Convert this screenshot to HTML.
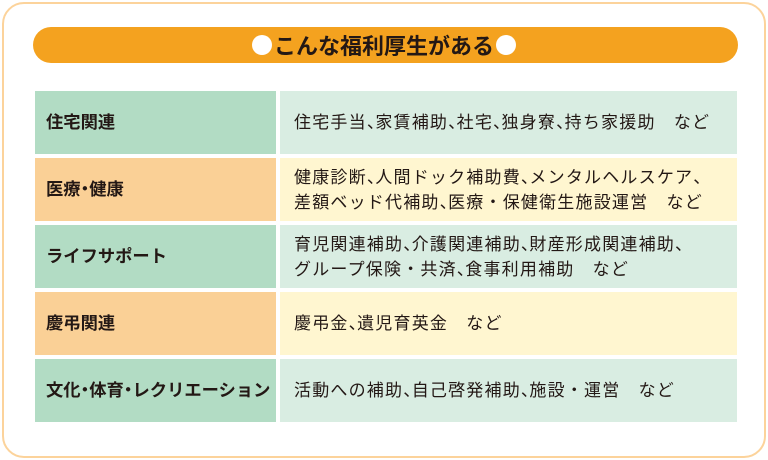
<!DOCTYPE html>
<html><head><meta charset="utf-8"><style>
body{margin:0;width:768px;height:460px;background:#fff;font-family:"Liberation Sans","Noto Sans CJK JP",sans-serif;position:relative;overflow:hidden}
.outer{position:absolute;left:2px;top:2px;width:760px;height:452px;border:2px solid #fcd39b;border-radius:22px}
.hdr{position:absolute;left:33px;top:27px;width:705px;height:36px;background:#f4a21f;border-radius:18px}
.ttl{position:absolute;left:0;right:0;top:27px;height:36px;display:flex;align-items:center;justify-content:center;font-weight:bold;font-size:22px;color:#231815}
.dot{display:inline-block;width:20px;height:20px;border-radius:50%;background:#fff;margin:0 2px}
.c{position:absolute;display:flex;align-items:center;color:#231815;line-height:25px;box-sizing:border-box;white-space:nowrap}
.l{left:35px;width:241px;padding-left:11px;font-weight:bold;font-size:17.3px}
.r{left:280px;width:457px;padding-left:14px;font-size:17px;letter-spacing:1.2px}
.k{letter-spacing:-0.5em}
.m{display:inline-block;margin:0 -0.25em}
.g1{background:#b2dcc4}.g2{background:#d9ede2}.o1{background:#fad096}.o2{background:#fff6d0}
</style></head><body>
<div class="outer"></div>
<div class="hdr"></div>
<div class="ttl"><span class="dot"></span>こんな福利厚生がある<span class="dot"></span></div>

<div class="c l g1" style="top:91px;height:63px">住宅関連</div>
<div class="c r g2" style="top:91px;height:63px"><div>住宅手当<span class="k">、</span>家賃補助<span class="k">、</span>社宅<span class="k">、</span>独身寮<span class="k">、</span>持ち家援助　など</div></div>

<div class="c l o1" style="top:158px;height:63px">医療<span class="m">・</span>健康</div>
<div class="c r o2" style="top:158px;height:63px"><div>健康診断<span class="k">、</span>人間ドック補助費<span class="k">、</span>メンタルヘルスケア<span class="k">、</span><br>差額ベッド代補助<span class="k">、</span>医療・保健衛生施設運営　など</div></div>

<div class="c l g1" style="top:225px;height:63px">ライフサポート</div>
<div class="c r g2" style="top:225px;height:63px"><div>育児関連補助<span class="k">、</span>介護関連補助<span class="k">、</span>財産形成関連補助<span class="k">、</span><br>グループ保険・共済<span class="k">、</span>食事利用補助　など</div></div>

<div class="c l o1" style="top:292px;height:63px">慶弔関連</div>
<div class="c r o2" style="top:292px;height:63px"><div>慶弔金<span class="k">、</span>遺児育英金　など</div></div>

<div class="c l g1" style="top:359px;height:63px">文化<span class="m">・</span>体育<span class="m">・</span>レクリエーション</div>
<div class="c r g2" style="top:359px;height:63px"><div>活動への補助<span class="k">、</span>自己啓発補助<span class="k">、</span>施設・運営　など</div></div>
</body></html>
